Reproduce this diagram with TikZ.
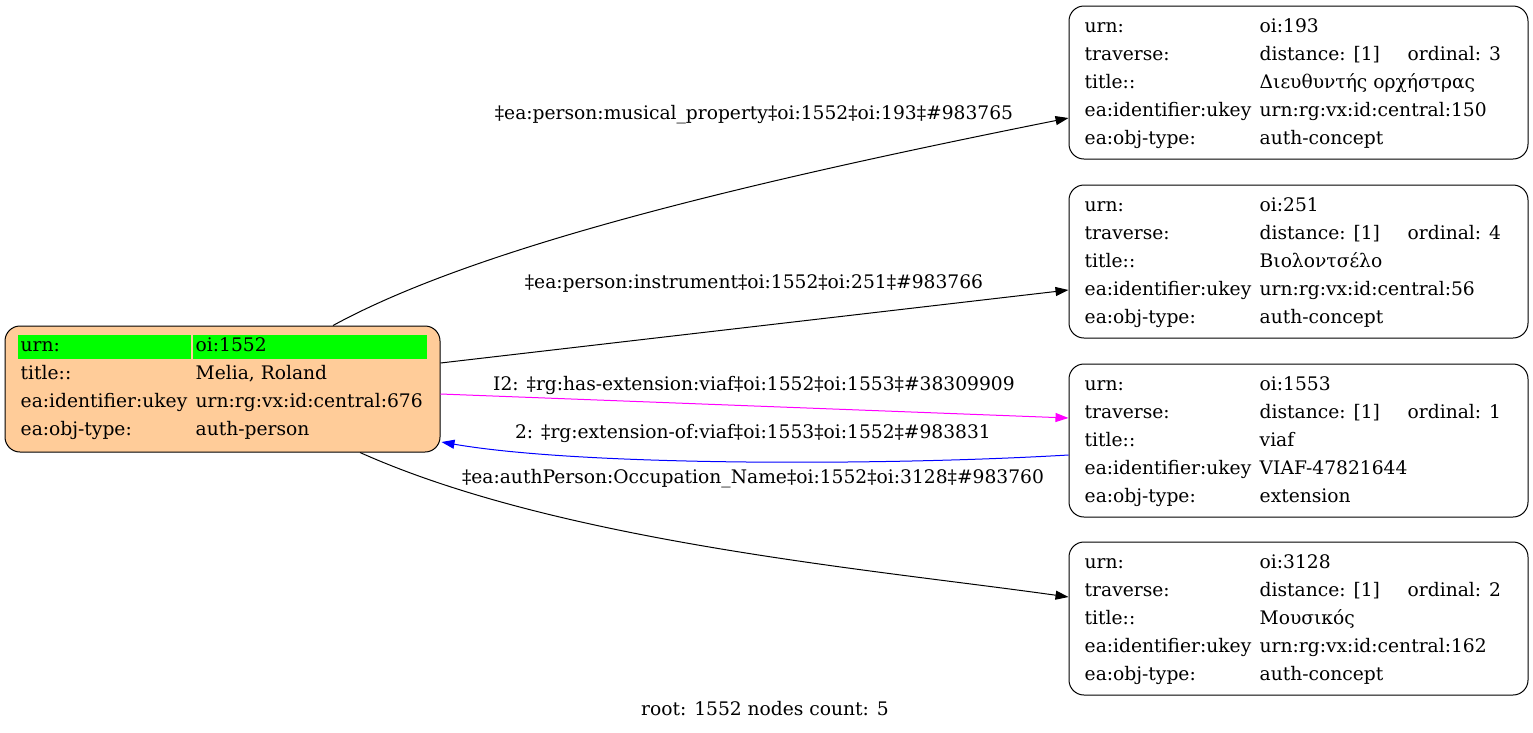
\documentclass[tikz,border=0pt]{standalone}
\usepackage{fontspec}
\setmainfont{DejaVu Serif}
\usetikzlibrary{calc,arrows.meta}
\definecolor{peach}{HTML}{FFCC99}
\definecolor{keygreen}{HTML}{00FF00}
\definecolor{extmagenta}{RGB}{255,0,255}
\definecolor{extblue}{RGB}{0,0,255}
\def\fieldrow[#1](#2:#3)#4#5{%
	\node[cell] (#1-key) at ($(#2.north west)+(16,#3)$) {#4};
	\node[cell] (#1-val) at ($(#2.north west)+(191,#3)$) {#5};}

\begin{document}
\begin{tikzpicture}[x=1pt, y=-1pt, font=\fontsize{18.67}{22}\selectfont,
	box/.style={draw, rounded corners=15pt, line width=1pt, minimum width=459pt, minimum height=153pt, inner sep=0pt},
	cell/.style={anchor=base west, inner sep=0pt},
	lbl/.style={anchor=base, inner sep=0pt},
	edge/.style={line width=1pt, -{Triangle[length=13pt,width=9pt]}}]
			%%%%% START %%%%%
			\useasboundingbox (0,0) rectangle (1533,732);
			
			\node[box, fill=peach, minimum width=435pt, minimum height=126pt] (p1552) at (222.5, 389) {};
			\fill[keygreen] ($(p1552.north west)+(13,9)$) rectangle ($(p1552.north west)+(186,33)$);
			\fill[keygreen] ($(p1552.north west)+(188,9)$) rectangle ($(p1552.north west)+(422,33)$);
			\fieldrow[p1552urn](p1552:26){urn:}{oi:1552}
			\fieldrow[p1552title](p1552:54){title::}{Melia, Roland}
			\fieldrow[p1552ukey](p1552:82){ea:identifier:ukey}{urn:rg:vx:id:central:676}
			\fieldrow[p1552type](p1552:110){ea:obj-type:}{auth-person}
			
			\node[box] (c193) at (1298.5, 82.5) {};
			\fieldrow[c193urn](c193:27){urn:}{oi:193}
			\fieldrow[c193trav](c193:55){traverse:}{distance: [1]}
			\node[cell] (c193-ord) at ($(c193.north west)+(339,55)$) {ordinal: 3};
			\fieldrow[c193title](c193:83){title::}{Διευθυντής ορχήστρας}
			\fieldrow[c193ukey](c193:111){ea:identifier:ukey}{urn:rg:vx:id:central:150}
			\fieldrow[c193type](c193:139){ea:obj-type:}{auth-concept}
			
			\node[box] (c251) at (1298.5, 261.5) {};
			\fieldrow[c251urn](c251:27){urn:}{oi:251}
			\fieldrow[c251trav](c251:55){traverse:}{distance: [1]}
			\node[cell] (c251-ord) at ($(c251.north west)+(339,55)$) {ordinal: 4};
			\fieldrow[c251title](c251:83){title::}{Βιολοντσέλο}
			\fieldrow[c251ukey](c251:111){ea:identifier:ukey}{urn:rg:vx:id:central:56}
			\fieldrow[c251type](c251:139){ea:obj-type:}{auth-concept}
			
			\node[box] (c1553) at (1298.5, 440.5) {};
			\fieldrow[c1553urn](c1553:27){urn:}{oi:1553}
			\fieldrow[c1553trav](c1553:55){traverse:}{distance: [1]}
			\node[cell] (c1553-ord) at ($(c1553.north west)+(339,55)$) {ordinal: 1};
			\fieldrow[c1553title](c1553:83){title::}{viaf}
			\fieldrow[c1553ukey](c1553:111){ea:identifier:ukey}{VIAF-47821644}
			\fieldrow[c1553type](c1553:139){ea:obj-type:}{extension}
			
			\node[box] (c3128) at (1298.5, 618.5) {};
			\fieldrow[c3128urn](c3128:27){urn:}{oi:3128}
			\fieldrow[c3128trav](c3128:55){traverse:}{distance: [1]}
			\node[cell] (c3128-ord) at ($(c3128.north west)+(339,55)$) {ordinal: 2};
			\fieldrow[c3128title](c3128:83){title::}{Μουσικός}
			\fieldrow[c3128ukey](c3128:111){ea:identifier:ukey}{urn:rg:vx:id:central:162}
			\fieldrow[c3128type](c3128:139){ea:obj-type:}{auth-concept}
			
			\draw[edge] ($(p1552.north)+(110.5,0)$) .. controls (483, 243.5) and (769, 178) .. ($(c193.west)+(0,35.5)$);
			\draw[edge] ($(p1552.east)+(0,-26)$) -- ($(c251.west)+(0,28.5)$);
			\draw[edge, color=extmagenta] ($(p1552.east)+(0,5)$) -- ($(c1553.west)+(0,-22.5)$);
			\draw[edge, color=extblue] ($(c1553.west)+(0,14.5)$) .. controls (880, 466) and (580, 466) .. ($(p1552.east)+(1,53)$);
			\draw[edge] ($(p1552.south)+(137.5,0)$) .. controls (560, 542) and (869, 569) .. ($(c3128.west)+(0,-21.5)$);
			
			\node[lbl] (l193) at (754, 119) {‡ea:person:musical\_property‡oi:1552‡oi:193‡\#983765};
			\node[lbl] (l251) at (754, 288) {‡ea:person:instrument‡oi:1552‡oi:251‡\#983766};
			\node[lbl] (l1553) at (754, 390) {I2: ‡rg:has-extension:viaf‡oi:1552‡oi:1553‡\#38309909};
			\node[lbl] (l1552) at (753, 438) {2: ‡rg:extension-of:viaf‡oi:1553‡oi:1552‡\#983831};
			\node[lbl] (l3128) at (753, 483) {‡ea:authPerson:Occupation\_Name‡oi:1552‡oi:3128‡\#983760};
			
			\node[lbl] (footer) at (765, 715) {root: 1552 nodes count: 5};
			
			%%%%% END %%%%%
\end{tikzpicture}
\end{document}
